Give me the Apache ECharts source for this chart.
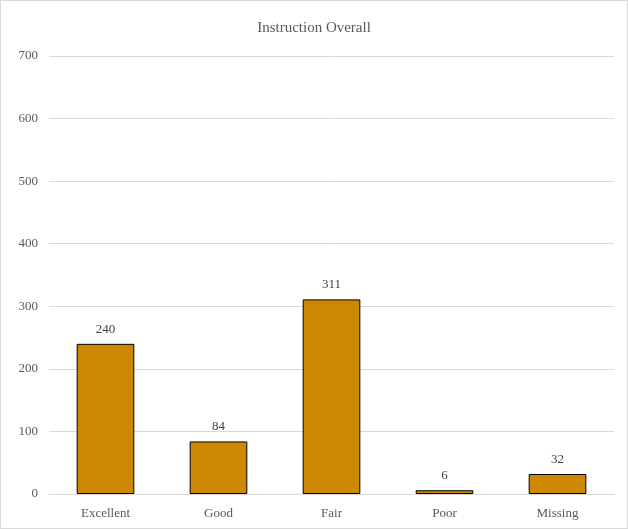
<!DOCTYPE html>
<html>
<head>
<meta charset="utf-8">
<script src="https://cdn.jsdelivr.net/npm/echarts@6/dist/echarts.min.js"></script>
<style>
html,body{margin:0;padding:0;background:#fff;}
#c{width:628px;height:529px;box-sizing:border-box;border:1px solid #d9d9d9;}
</style>
</head>
<body>
<div id="c"></div>
<script>
const categories = ['Excellent', 'Good', 'Fair', 'Poor', 'Missing'];
const values = [240, 84, 311, 6, 32];
const yTicks = { min: 0, max: 700, interval: 100 };

const chart = echarts.init(document.getElementById('c'));
const font = '"Liberation Serif", "Times New Roman", serif';
chart.setOption({
  animation: false,
  title: {
    text: 'Instruction Overall',
    left: 'center',
    top: 15,
    textStyle: { fontFamily: font, fontSize: 15, fontWeight: 'normal', color: '#595959' }
  },
  grid: { left: 48, right: 13, top: 55, bottom: 34, containLabel: false },
  xAxis: {
    type: 'category',
    data: categories,
    axisLine: { lineStyle: { color: '#d9d9d9' } },
    axisTick: { show: false },
    axisLabel: { fontFamily: font, fontSize: 13, color: '#595959', margin: 13 }
  },
  yAxis: {
    type: 'value',
    min: yTicks.min, max: yTicks.max, interval: yTicks.interval,
    axisLine: { show: false },
    axisTick: { show: false },
    splitLine: { lineStyle: { color: '#d9d9d9' } },
    axisLabel: { fontFamily: font, fontSize: 13, color: '#595959', margin: 11 }
  },
  series: [{
    type: 'bar',
    data: values,
    barWidth: '51%',
    itemStyle: { color: '#CC8800', borderColor: '#000', borderWidth: 1 },
    label: { show: true, position: 'top', distance: 8, fontFamily: font, fontSize: 13, color: '#404040' }
  }]
});
</script>
</body>
</html>
